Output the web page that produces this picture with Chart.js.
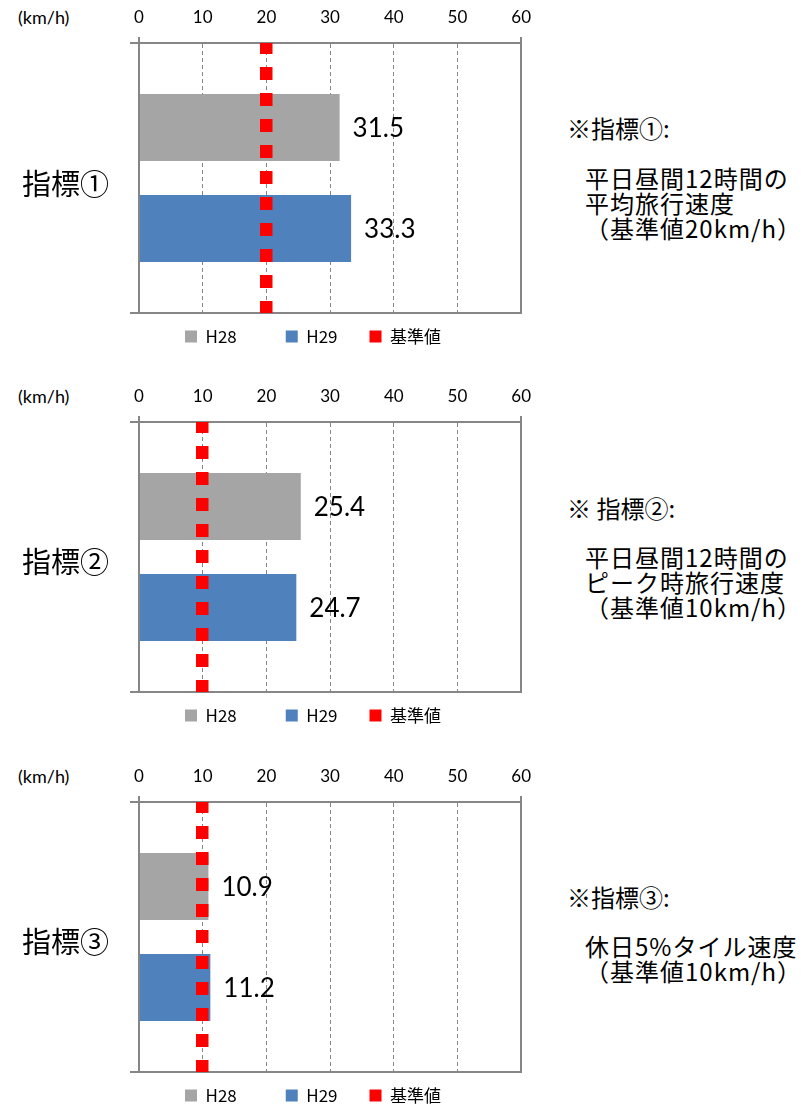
<!DOCTYPE html>
<html>
<head>
<meta charset="utf-8">
<script src="https://cdn.jsdelivr.net/npm/chart.js@4.4.1/dist/chart.umd.min.js"></script>
<style>
html, body { margin: 0; padding: 0; background: #fff; width: 812px; height: 1107px; overflow: hidden; }
.box { position: absolute; left: 100px; width: 440px; height: 355px; }
.txt { position: absolute; color: #000; white-space: nowrap; line-height: 1; transform: translateY(-50%);
       font-family: "Noto Sans CJK JP", sans-serif; }
</style>
</head>
<body>
<div class="box" style="top:0px"><canvas id="chart1"></canvas></div>
<div class="box" style="top:379px"><canvas id="chart2"></canvas></div>
<div class="box" style="top:759px"><canvas id="chart3"></canvas></div>
<script>
const years = ['H28', 'H29'];
const values1 = [31.5, 33.3];
const values2 = [25.4, 24.7];
const values3 = [10.9, 11.2];
const benchValues = [20, 10, 10];
const benchLabel = '基準値';
const xMin = 0, xMax = 60, xStep = 10;
const unitLabel = '(km/h)';
const indicatorNames = ['指標①', '指標②', '指標③'];
const noteTitles = ['※指標①:', '※ 指標②:', '※指標③:'];
const noteLines = [
    ['平日昼間12時間の', '平均旅行速度', '（基準値20km/h）'],
    ['平日昼間12時間の', 'ピーク時旅行速度', '（基準値10km/h）'],
    ['休日5%タイル速度', '（基準値10km/h）']
];

const barColors = ['#a5a5a5', '#4f81bd'];
const benchColor = '#ff0000';
const axisGray = '#868686';
// extra space after legend entries (the legend is spaced unevenly in the original)
const legendGaps = ['\u3000\u3000', '\u3000'];

function addText(text, left, cy, size, family, spacing) {
    const el = document.createElement('div');
    el.className = 'txt';
    el.textContent = text;
    el.style.left = left + 'px';
    el.style.top = cy + 'px';
    el.style.fontSize = size + 'px';
    if (family) el.style.fontFamily = family;
    if (spacing) el.style.letterSpacing = spacing + 'px';
    document.body.appendChild(el);
}

// value text right of each bar
const valueLabels = {
    id: 'valueLabels',
    afterDatasetsDraw(chart) {
        const ctx = chart.ctx;
        ctx.save();
        ctx.font = '26px Lato';
        ctx.fillStyle = '#000';
        ctx.textBaseline = 'middle';
        chart.data.datasets.forEach((ds, i) => {
            chart.getDatasetMeta(i).data.forEach((bar, j) => {
                ctx.fillText(ds.data[j].toFixed(1), bar.x + 13, bar.y + 1);
            });
        });
        ctx.restore();
    }
};

function isEdge(c) {
    return !c.tick || c.tick.value === xMin || c.tick.value === xMax;
}

function createChart(canvas, values, bench) {
    const datasets = years.map((y, i) => ({
        label: y,
        data: [values[i]],
        backgroundColor: barColors[i],
        borderWidth: 0,
        categoryPercentage: 0.748,
        barPercentage: 0.663
    }));

    new Chart(canvas, {
        type: 'bar',
        data: {labels: [''], datasets: datasets},
        plugins: [valueLabels],
        options: {
            indexAxis: 'y',
            responsive: true,
            maintainAspectRatio: false,
            animation: false,
            layout: {padding: {top: 0, right: 14, bottom: 0, left: 0}},
            plugins: {
                tooltip: {enabled: false},
                legend: {
                    position: 'bottom',
                    labels: {
                        usePointStyle: true,
                        boxWidth: 12,
                        boxHeight: 12,
                        padding: 15,
                        color: '#000',
                        font: {size: 17, family: '"Noto Sans CJK JP"'},
                        generateLabels: ch => {
                            const items = Chart.defaults.plugins.legend.labels.generateLabels(ch)
                                .map((l, k) => Object.assign(l, {text: l.text + (legendGaps[k] || ''), lineWidth: 0,
                                    pointStyle: 'rect', strokeStyle: 'rgba(0,0,0,0)'}));
                            items.push({text: benchLabel, fillStyle: benchColor, strokeStyle: 'rgba(0,0,0,0)',
                                lineWidth: 0, pointStyle: 'rect', hidden: false, datasetIndex: -1, fontColor: '#000'});
                            return items;
                        }
                    },
                    onClick: () => {}
                }
            },
            scales: {
                x: {
                    type: 'linear',
                    position: 'top',
                    min: xMin,
                    max: xMax,
                    ticks: {stepSize: xStep, padding: 9, color: '#000', font: {size: 17, family: 'Lato'}},
                    grid: {
                        color: axisGray,
                        lineWidth: c => isEdge(c) ? 2 : 1,
                        tickLength: 6,
                        tickColor: c => isEdge(c) ? axisGray : 'rgba(0,0,0,0)'
                    },
                    border: {color: axisGray, width: 2, dash: c => isEdge(c) ? [] : [4, 3]},
                    afterFit: s => { s.height = 43; }
                },
                // benchmark: a single red square-dotted grid line drawn above the bars
                bench: {
                    type: 'linear',
                    axis: 'x',
                    position: 'top',
                    min: xMin,
                    max: xMax,
                    afterBuildTicks: s => { s.ticks = [{value: bench}]; },
                    ticks: {display: false},
                    grid: {color: benchColor, lineWidth: 12.5, drawTicks: false, z: 1},
                    border: {display: false, dash: [13, 13], dashOffset: 2},
                    afterFit: s => { s.height = 0; }
                },
                x2: {
                    type: 'linear',
                    position: 'bottom',
                    min: xMin,
                    max: xMax,
                    ticks: {display: false},
                    grid: {display: false},
                    border: {color: axisGray, width: 2},
                    afterFit: s => { s.height = 0; }
                },
                y: {
                    type: 'category',
                    position: 'left',
                    ticks: {display: false},
                    grid: {drawOnChartArea: false, color: axisGray, lineWidth: 2, tickLength: 9},
                    border: {color: axisGray, width: 2},
                    afterFit: s => { s.width = 39; }
                }
            }
        }
    });
}

createChart(document.getElementById('chart1'), values1, benchValues[0]);
createChart(document.getElementById('chart2'), values2, benchValues[1]);
createChart(document.getElementById('chart3'), values3, benchValues[2]);

// surrounding texts
const offsets = [0, 379, 759];
offsets.forEach(o => addText(unitLabel, 18, o + 17, 18, 'Lato'));
addText(indicatorNames[0], 22, 182, 29);
addText(indicatorNames[1], 22, 560, 29);
addText(indicatorNames[2], 22, 940, 29);

addText(noteTitles[0], 567, 128, 24);
addText(noteTitles[1], 567, 508, 24);
addText(noteTitles[2], 567, 897, 24);

const noteStarts = [178, 557, 946];
noteLines.forEach((lines, k) => {
    lines.forEach((t, j) => addText(t, 585, noteStarts[k] + j * 25, 24, null, 1));
});
</script>
</body>
</html>
